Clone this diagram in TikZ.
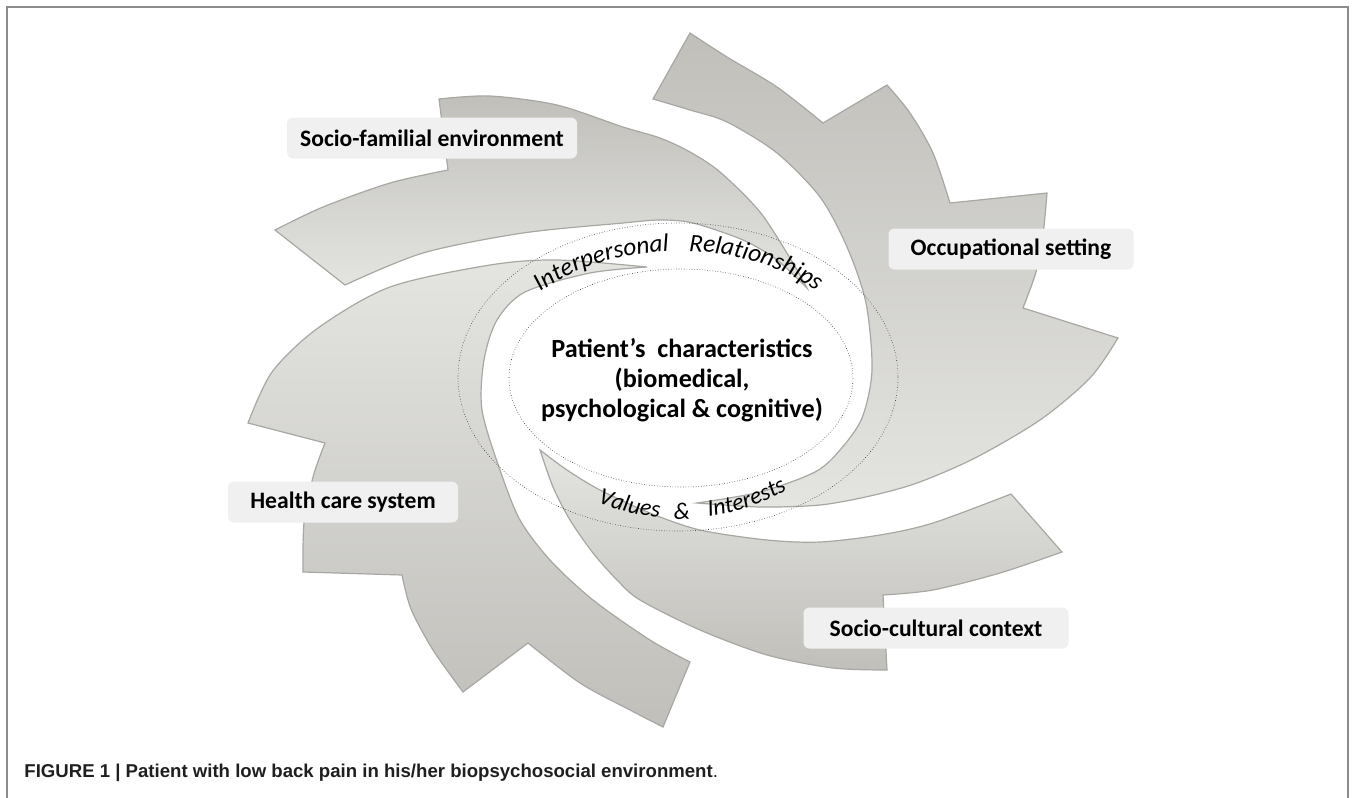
\documentclass[tikz,border=0pt]{standalone}
\usepackage{fontspec}
\setmainfont{Carlito}
\newfontfamily\capfont{Liberation Sans}
\usetikzlibrary{decorations.text}

\definecolor{bladedark}{RGB}{192,191,186}
\definecolor{bladelight}{RGB}{228,228,225}
\definecolor{bladeline}{RGB}{168,167,162}
\definecolor{boxgray}{RGB}{240,240,240}

\tikzset{
    blade/.style = {draw = bladeline, line width = 0.6pt},
    ring/.style = {draw = black!80, densely dotted, line width = 0.3pt},
    labelbox/.style = {fill = boxgray, rounded corners = 3pt, inner sep = 0pt, minimum height = 20.5pt, font = \fontsize{11.8}{14}\selectfont\bfseries},
    arctext/.style 2 args = {decorate, decoration = {text along path, text align = center, text = {|\fontsize{#1}{14}\selectfont\itshape|#2}}}
}

\begin{document}
\begin{tikzpicture}[x = 0.5pt, y = -0.5pt]
                \useasboundingbox (0,0) rectangle (1356,798);
                \draw[black!45, line width = 0.9pt] (7,798) -- (7,7) -- (1348,7) -- (1348,798);

                \draw[blade, top color = bladedark, bottom color = bladelight] (345,285) -- (275,230)
                    -- plot[smooth] coordinates {(275,230) (323,207) (390,183) (448,170)} -- (439,99)
                    -- plot[smooth] coordinates {(439,99) (490,96) (557,105) (623,127) (660,138) (690,152) (720,172) (760,212) (793,263) (807,288)}
                    -- plot[smooth] coordinates {(807,288) (777,260) (743,240) (693,223) (660,220) (623,223) (523,233) (423,253) (345,285)}
                    -- cycle;
                \draw[blade, top color = bladedark, bottom color = bladelight] (690,33) -- (653,99)
                    -- plot[smooth] coordinates {(653,99) (690,110) (727,122) (777,153) (820,197) (847,247) (866,303) (872,370) (862,418) (840,450) (815,472) (760,492) (697,503)}
                    -- plot[smooth] coordinates {(697,503) (760,507) (820,505) (870,496) (917,483) (975,458) (1040,420) (1090,378) (1118,338)}
                    -- (1023,308)
                    -- plot[smooth] coordinates {(1023,308) (1036,272) (1043,235) (1047,193)}
                    -- (950,203)
                    -- plot[smooth] coordinates {(950,203) (933,153) (910,113) (887,85)}
                    -- (823,123)
                    -- plot[smooth] coordinates {(823,123) (777,87) (727,57) (690,33)}
                    -- cycle;
                \draw[blade, top color = bladelight, bottom color = bladedark] (647,267)
                    -- plot[smooth] coordinates {(647,267) (557,260) (490,265) (390,287) (318,328) (272,372) (248,423)}
                    -- (325,443)
                    -- plot[smooth] coordinates {(325,443) (313,477) (304,523) (303,572)}
                    -- (402,575)
                    -- plot[smooth] coordinates {(402,575) (411,609) (433,650) (463,692)}
                    -- (528,643)
                    -- plot[smooth] coordinates {(528,643) (580,683) (630,710) (663,727)}
                    -- (690,662)
                    -- plot[smooth] coordinates {(690,662) (650,640) (593,600) (550,560) (520,520) (500,470) (482,410) (484,360) (497,320) (525,292) (590,273) (647,267)}
                    -- cycle;
                \draw[blade, top color = bladelight, bottom color = bladedark] (540,450)
                    -- plot[smooth] coordinates {(540,450) (567,470) (600,490) (650,513) (700,530) (767,540) (820,542) (880,535) (933,523) (1011,494)}
                    -- (1062,552)
                    -- plot[smooth] coordinates {(1062,552) (1000,573) (933,590) (883,595)}
                    -- (887,670)
                    -- plot[smooth] coordinates {(887,670) (833,668) (767,655) (700,630) (640,600) (617,580) (593,553) (570,520) (553,487) (540,450)}
                    -- cycle;

                \draw[ring] (681,378) ellipse [x radius = 172, y radius = 109];
                \draw[ring] (678,377) ellipse [x radius = 220, y radius = 154];

                \node[labelbox, minimum width = 145pt] (familial) at (432,138) {Socio-familial environment};
                \node[labelbox, minimum width = 122.5pt] (occupational) at (1011,249) {Occupational setting};
                \node[labelbox, minimum width = 115pt] (health) at (343,502) {Health care system};
                \node[labelbox, minimum width = 132.5pt] (cultural) at (936,628) {Socio-cultural context};

                \node[align = center, font = \fontsize{13.1}{15}\selectfont\bfseries] (patient) at (682,380) {Patient’s\ \ characteristics\\(biomedical,\\psychological \& cognitive)};

                \coordinate (mid) at (679,377);
                \path[arctext = {12.6}{Interpersonal}] ([shift = {(-152.6:188 and 126)}]mid) arc[start angle = -152.6, end angle = -81, x radius = 188, y radius = 126];
                \path[arctext = {12.6}{Relationships}] ([shift = {(-99.2:188 and 126)}]mid) arc[start angle = -99.2, end angle = -27.6, x radius = 188, y radius = 126];
                \path[arctext = {11.9}{Values}] ([shift = {(126:180 and 141)}]mid) arc[start angle = 126, end angle = 87.6, x radius = 180, y radius = 141];
                \node[anchor = base, rotate = 1, inner sep = 0pt, font = \fontsize{11.9}{14}\selectfont\itshape] (amp) at (682,519) {\&};
                \path[arctext = {11.9}{Interests}] ([shift = {(93.3:180 and 141)}]mid) arc[start angle = 93.3, end angle = 38.9, x radius = 180, y radius = 141];

                \node[anchor = base west, inner sep = 0pt, font = \capfont\fontsize{9.3}{11}\selectfont, text = black!88] (caption) at (24,777) {\textbf{FIGURE 1 | Patient with low back pain in his/her biopsychosocial environment}.};
\end{tikzpicture}
\end{document}
